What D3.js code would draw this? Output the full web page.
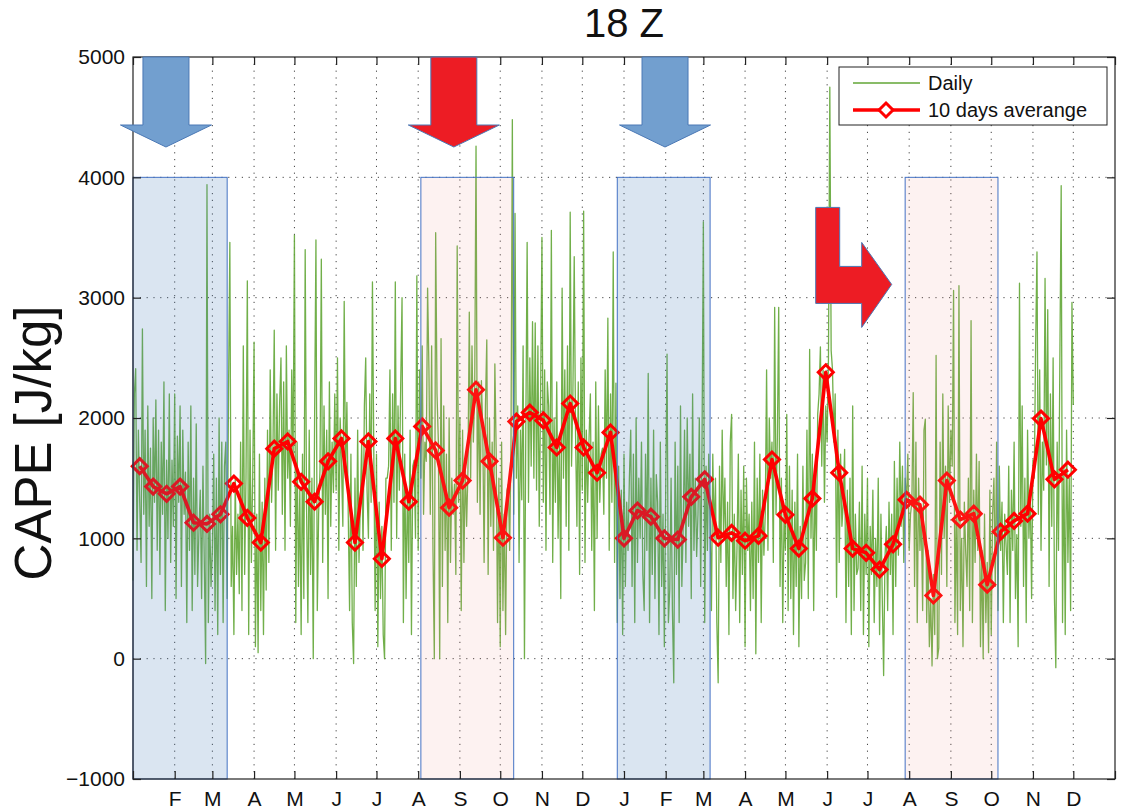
<!DOCTYPE html>
<html>
<head>
<meta charset="utf-8">
<script src="https://cdn.jsdelivr.net/npm/d3@7"></script>
<style>
  body { margin: 0; background: #fff; }
  svg { display: block; font-family: "Liberation Sans", Arial, Helvetica, sans-serif; }
</style>
</head>
<body>
<svg id="chart" width="1122" height="811"></svg>
<script>
// ---- data ----

// month ticks, day index from Jan 1 of first year, two years
const tickDays = [0, 31, 59, 90, 120, 151, 181, 212, 243, 273, 304, 334,
                  365, 396, 424, 455, 485, 516, 546, 577, 608, 638, 669, 699, 730];
const tickLabels = ["", "F", "M", "A", "M", "J", "J", "A", "S", "O", "N", "D",
                    "J", "F", "M", "A", "M", "J", "J", "A", "S", "O", "N", "D", ""];
const yTicks = [-1000, 0, 1000, 2000, 3000, 4000, 5000];

// daily CAPE at 18Z, one row per 10 days
const daily = [
  650, 2200, 2410, 900, 1900, 1300, 800, 2740, 1200, 1900,
  600, 2100, 1100, 1750, 500, 2000, 1300, 2150, 900, 1900,
  700, 1800, 1200, 2300, 400, 1650, 1000, 2200, 800, 1650,
  1100, 2200, 500, 1850, 1300, 2100, 600, 1900, 1200, 1550,
  300, 1800, 900, 2100, 400, 1500, 700, 1950, 600, 1050,
  1400, 500, 1600, 800, -40, 3940, 300, 1200, 600, 900,
  1700, 400, 1500, 200, 2000, 700, 1800, 300, 1600, 1800,
  500, 2200, 3460, 600, 1100, 200, 1500, 700, 1200, 540,
  1800, 400, 2600, 700, 1500, 3140, 200, 1900, 800, 1510,
  2630, 100, 1200, 50, 1700, 400, 1300, 200, 1500, 570,
  1900, 800, 2400, 1300, 1700, 2730, 900, 2200, 1400, 2120,
  2500, 1200, 2300, 900, 2600, 1500, 1900, 1100, 2400, 1650,
  3520, 300, 1800, 600, 1400, 200, 1700, 500, 3400, 1280,
  300, 1900, 700, 1500, 0, 2000, 3480, 400, 1200, 1570,
  3320, 800, 2100, 1200, 1900, 500, 2300, 1100, 1800, 1380,
  2200, 1400, 2500, 900, 2000, 1600, 1100, 2970, 1500, 2130,
  1200, 400, 1700, 300, -40, 1500, 600, 1900, 800, 1290,
  1800, 900, 2100, 2500, 1400, 1000, 2200, 1300, 3130, 1720,
  400, 1700, 100, 1300, 500, 1100, 200, 0, 1500, 1500,
  1600, 2400, 900, 2200, 1300, 3130, 1000, 2100, 1400, 2270,
  3000, 300, 1700, 500, 1400, 800, 1900, 200, 1600, 1650,
  1000, 3180, 900, 2400, 1500, 2600, 1200, 1800, 1640, 3080,
  2400, 1200, 2600, 900, 0, 3540, 2200, 1800, 0, 2660,
  600, 2100, 900, 1700, 300, 2000, 800, 1500, 1200, 1450,
  700, 3430, 1300, 2000, 400, 1900, 800, 1600, 1100, 1570,
  2880, 1500, 2600, 1800, 2200, 4260, 1300, 2300, 1200, 2310,
  1900, 800, 2100, 2650, 700, 2000, 1100, 1800, 900, 2450,
  1700, 300, 1500, 100, 1800, 400, 1200, 200, 1400, 1450,
  900, 1800, 4480, 1200, 3700, 1500, 2100, 800, 1900, 1320,
  2600, 0, 1900, 3460, 1300, 2500, 1600, 2800, 1500, 2790,
  1400, 2600, 1100, 2200, 3500, 1300, 2400, 900, 2300, 2100,
  1200, 3560, 800, 2000, 1300, 2300, 1000, 1810, 500, 3080,
  1500, 2400, 1100, 2600, 900, 3710, 1600, 2200, 3340, 1850,
  1100, 2300, 700, 2500, 1400, 3720, 800, 1900, 1300, 1830,
  2200, 900, 1800, 400, 2300, 1000, 2100, 1300, 1700, 1750,
  1200, 2400, 1500, 2830, 900, 2200, 1300, 3380, 800, 2290,
  300, 1600, 500, 1400, 200, 1700, 600, 1300, 900, 1500,
  1900, 600, 1700, 300, 2000, 800, 1500, 1000, 1800, 700,
  400, 1700, 900, 2370, 300, 1500, 700, 1900, 500, 1530,
  1300, 200, 1800, 600, 1200, 100, 1400, 2530, 300, 570,
  1500, 400, -200, 1800, 700, 1600, 300, 2100, 600, 1100,
  1900, 800, 2000, 1100, 1700, 500, 2200, 900, 1500, 850,
  1200, 2000, 600, 1800, 3630, 300, 1600, 900, 1700, 1170,
  400, 1700, 1000, 1500, 300, -200, 1600, 800, 1900, 1050,
  1500, 600, 1300, 200, 1800, 2030, 500, 1200, 400, 920,
  1700, 300, 1400, 700, 1600, 100, 1500, 900, 1200, 400,
  1300, 500, 1800, 40, 1500, 800, 1700, 300, 1400, 860,
  1200, 2400, 900, 2000, 1500, 1800, 800, 2920, 1200, 1830,
  2920, 600, 1500, 300, 1200, 900, 2030, 400, 1600, 500,
  1400, 200, 1300, 600, 1700, 100, 1100, 500, 1600, 650,
  800, 1900, 500, 2570, 1000, 1700, 400, 1500, 900, 2030,
  2200, 2590, 1600, 2400, 1300, 2100, 1800, 2500, 4750, 2560,
  2400, 1800, 2200, 510, 1900, 800, 1700, 1100, 1300, 1740,
  300, 1400, 600, 1500, 200, 2100, 400, 1200, 700, 750,
  1300, 400, 1600, 200, 1200, 700, 1500, 100, 1100, 700,
  1400, 300, 1000, 600, 1500, 200, 1200, 500, -140, 840,
  1100, 400, 1300, 700, 1200, 200, 1640, 600, 1500, 860,
  1800, 1100, 1600, 800, 1500, 1300, 1700, 900, 1200, 1300,
  2210, 600, 1800, 300, 1500, 900, 1200, 400, 1900, 1990,
  300, 900, 100, 500, -60, 700, 200, 2520, 0, 90,
  1800, 700, 2200, 1000, 1600, 600, 2100, 1300, 1900, 1600,
  3060, 300, 1200, 200, 3100, 400, 1000, 100, 1300, 890,
  600, 1500, 400, 2810, 300, 1400, 800, 1700, 900, 1640,
  100, 900, 0, 1200, 300, 800, 50, 1400, 200, 1200,
  1500, 600, 1800, 400, 1600, 900, 1300, 300, 1200, 950,
  700, 1600, 300, 1400, 900, 1800, 500, 1030, 100, 3120,
  1100, 2100, 600, 1500, 300, 1900, 1000, 1400, 500, 1650,
  1500, 2600, 3380, 1200, 2400, 900, 1800, 1400, 3160, 1610,
  2900, 600, 2200, 1100, 2500, 500, -75, 1800, 900, 2475,
  3930, 300, 1600, 200, 1900, 800, 1500, 400, 2960, 2110
];

// 10 days average, one value per 10-day window
const avg10 = [
  1600, 1430, 1370, 1430, 1130, 1120, 1200, 1455, 1170, 965,
  1745, 1805, 1470, 1305, 1640, 1830, 965, 1805, 830, 1830,
  1305, 1930, 1730, 1255, 1480, 2235, 1640, 1005, 1970, 2045,
  1980, 1755, 2120, 1755, 1545, 1880, 1000, 1230, 1180, 1000,
  990, 1345, 1490, 1005, 1045, 980, 1020, 1655, 1195, 915,
  1330, 2380, 1545, 915, 880, 740, 950, 1320, 1280, 525,
  1480, 1155, 1205, 615, 1055, 1145, 1205, 1995, 1490, 1570
];

// highlighted periods [start day, end day]
const periods = [
  { from: 0,   to: 70,  kind: "cold" },
  { from: 214, to: 283, kind: "warm" },
  { from: 360, to: 429, kind: "cold" },
  { from: 574, to: 643, kind: "warm" }
];
// down arrows above the periods (centre day)
const arrows = [
  { day: 24.5,  kind: "cold" },
  { day: 238.5, kind: "warm" },
  { day: 395.5, kind: "cold" }
];

// ---- layout ----
const W = 1122, H = 811;
const margin = { top: 57, right: 7, bottom: 32, left: 133 };
const iw = W - margin.left - margin.right;
const ih = H - margin.top - margin.bottom;

const svg = d3.select("#chart");
const g = svg.append("g").attr("transform", `translate(${margin.left},${margin.top})`);

const x = d3.scaleLinear().domain([0, 730]).range([0, iw]);
const y = d3.scaleLinear().domain([-1000, 5000]).range([ih, 0]);

const fills = { cold: "rgba(70,125,185,0.20)", warm: "rgba(240,150,140,0.12)" };
const arrowFill = { cold: "#729fcf", warm: "#ed1c24" };
const arrowStroke = { cold: "#4a78b5", warm: "#4a78b5" };

// grid
g.append("g").selectAll("line").data(tickDays.slice(1, -1)).join("line")
  .attr("x1", d => x(d)).attr("x2", d => x(d))
  .attr("y1", 0).attr("y2", ih)
  .attr("stroke", "#444").attr("stroke-width", 1).attr("stroke-dasharray", "1.2,5.6");
g.append("g").selectAll("line").data(yTicks.slice(1, -1)).join("line")
  .attr("x1", 0).attr("x2", iw)
  .attr("y1", d => y(d)).attr("y2", d => y(d))
  .attr("stroke", "#444").attr("stroke-width", 1).attr("stroke-dasharray", "1.2,5.6");

// daily line
const dailyLine = d3.line().x((d, i) => x(i)).y(d => y(d));
g.append("path").datum(daily)
  .attr("d", dailyLine)
  .attr("fill", "none").attr("stroke", "#62a636").attr("stroke-width", 1.3)
  .attr("stroke-opacity", 0.9).attr("stroke-linejoin", "round");

// 10 day average
const avgDay = i => i * 10 + 5;
const avgLine = d3.line().x((d, i) => x(avgDay(i))).y(d => y(d));
g.append("path").datum(avg10)
  .attr("d", avgLine)
  .attr("fill", "none").attr("stroke", "#ff0000").attr("stroke-width", 3.6)
  .attr("stroke-linejoin", "round");

function diamond(r) { return `M0,${-r}L${r},0L0,${r}L${-r},0Z`; }
g.append("g").selectAll("path").data(avg10).join("path")
  .attr("transform", (d, i) => `translate(${x(avgDay(i))},${y(d)})`)
  .attr("d", diamond(7.5))
  .attr("fill", "none").attr("stroke", "#ff0000").attr("stroke-width", 3);

// shaded periods on top
g.append("g").selectAll("rect").data(periods).join("rect")
  .attr("x", d => x(d.from)).attr("width", d => x(d.to) - x(d.from))
  .attr("y", y(4000)).attr("height", y(-1000) - y(4000))
  .attr("fill", d => fills[d.kind])
  .attr("stroke", "#4472c4").attr("stroke-width", 1);

// axes box and ticks
g.append("rect").attr("width", iw).attr("height", ih)
  .attr("fill", "none").attr("stroke", "#222").attr("stroke-width", 1.2);

const xAxis = d3.axisBottom(x).tickValues(tickDays).tickSize(-8).tickPadding(12)
  .tickFormat((d, i) => tickLabels[i]);
const xg = g.append("g").attr("transform", `translate(0,${ih})`).call(xAxis);
g.append("g").call(d3.axisTop(x).tickValues(tickDays).tickSize(-8).tickFormat(""));

const yAxis = d3.axisLeft(y).tickValues(yTicks).tickSize(-8).tickPadding(8)
  .tickFormat(d3.format("d"));
const yg = g.append("g").call(yAxis);
g.append("g").attr("transform", `translate(${iw},0)`)
  .call(d3.axisRight(y).tickValues(yTicks).tickSize(-8).tickFormat(""));

g.selectAll(".domain").remove();
g.selectAll(".tick line").attr("stroke", "#222").attr("stroke-width", 1.2);
xg.selectAll("text").attr("font-size", 21).attr("fill", "#111")
  .attr("font-family", "Liberation Sans, Arial, sans-serif");
yg.selectAll("text").attr("font-size", 21).attr("fill", "#111")
  .attr("font-family", "Liberation Sans, Arial, sans-serif");

// arrows
const arrowPath = "M-23,0L23,0L23,68L45.5,68L0,90L-45.5,68L-23,68Z";
g.append("g").selectAll("path").data(arrows).join("path")
  .attr("transform", d => `translate(${x(d.day)},${y(5000)})`)
  .attr("d", arrowPath)
  .attr("fill", d => arrowFill[d.kind]).attr("stroke", d => arrowStroke[d.kind]).attr("stroke-width", 1);

// bent arrow pointing at the last warm period
g.append("path")
  .attr("transform", `translate(${x(507.5)},${y(3750)})`)
  .attr("d", "M0,0L24,0L24,59L46,59L46,35L76,77L46,120L46,96L0,96Z")
  .attr("fill", "#ed1c24").attr("stroke", "#4a78b5").attr("stroke-width", 1);

// title and y label
svg.append("text").attr("x", margin.left + iw / 2).attr("y", 37)
  .attr("text-anchor", "middle").attr("font-size", 40).attr("fill", "#111").text("18 Z");
svg.append("text").attr("transform", `translate(51,${margin.top + ih / 2 + 25}) rotate(-90)`)
  .attr("text-anchor", "middle").attr("font-size", 51).attr("fill", "#111").text("CAPE [J/kg]");

// legend
const lg = svg.append("g").attr("transform", "translate(839,67)");
lg.append("rect").attr("width", 268).attr("height", 58)
  .attr("fill", "#fff").attr("stroke", "#222").attr("stroke-width", 1);
lg.append("line").attr("x1", 14).attr("x2", 81).attr("y1", 16).attr("y2", 16)
  .attr("stroke", "#62a636").attr("stroke-width", 1.3);
lg.append("line").attr("x1", 14).attr("x2", 81).attr("y1", 43).attr("y2", 43)
  .attr("stroke", "#ff0000").attr("stroke-width", 3.6);
lg.append("path").attr("transform", "translate(47,43)").attr("d", diamond(7))
  .attr("fill", "#fff").attr("stroke", "#ff0000").attr("stroke-width", 3);
lg.append("text").attr("x", 89).attr("y", 23).attr("font-size", 20).attr("fill", "#111").text("Daily");
lg.append("text").attr("x", 89).attr("y", 50).attr("font-size", 20).attr("fill", "#111").text("10 days averange");
</script>
</body>
</html>
